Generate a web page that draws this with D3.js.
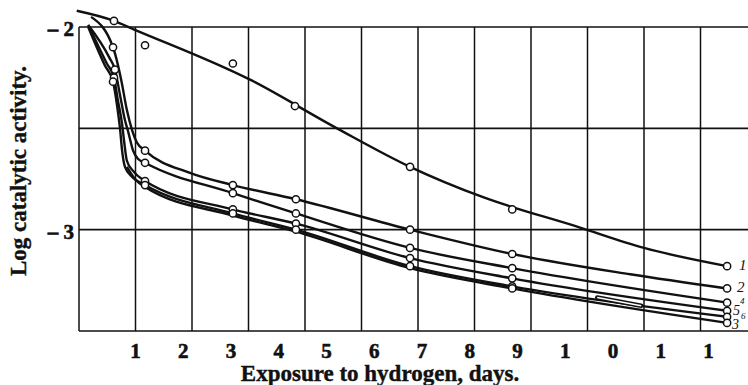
<!DOCTYPE html>
<html>
<head>
<meta charset="utf-8">
<script src="https://cdn.jsdelivr.net/npm/d3@7"></script>
<style>
body { margin: 0; background: #fff; }
svg { display: block; font-family: "Liberation Serif", "Times New Roman", serif; }
</style>
</head>
<body>
<div class="chart"></div>
<script>
var width = 748;
var height = 385;

// x tick labels exactly as printed (the last ones are split digits)
var tickDays = [1, 2, 3, 4, 5, 6, 7, 8, 9, 10, 11, 12, 13];
var tickLabels = ["1", "2", "3", "4", "5", "6", "7", "8", "9", "1", "0", "1", "1"];
var yTicks = [-2, -3];
var yGridValues = [-2, -2.5, -3, -3.5];
var gridColumns = 12;

var seriesNames = ["1", "2", "4", "5", "6", "3"];

// measured points, days vs log catalytic activity
var pointDays1 = [0.56, 1.21, 3.05, 4.35, 6.76, 8.9, 13.4];
var pointAct1 = [-1.97, -2.09, -2.18, -2.39, -2.69, -2.90, -3.18];
var pointDays2 = [0.54, 1.21, 3.05, 4.37, 6.76, 8.9, 13.4];
var pointAct2 = [-2.10, -2.61, -2.78, -2.85, -3.0, -3.12, -3.29];
var pointDays4 = [0.58, 1.21, 3.05, 4.37, 6.76, 8.9, 13.4];
var pointAct4 = [-2.21, -2.67, -2.82, -2.92, -3.09, -3.19, -3.36];
var pointDays5 = [0.56, 1.21, 3.05, 4.37, 6.76, 8.9, 13.4];
var pointAct5 = [-2.25, -2.76, -2.90, -2.97, -3.14, -3.24, -3.40];
var pointDays6 = [0.54, 1.21, 3.05, 4.37, 6.76, 8.9, 13.4];
var pointAct6 = [-2.27, -2.78, -2.92, -3.0, -3.18, -3.28, -3.43];
var pointDays3 = [8.9, 13.4];
var pointAct3 = [-3.29, -3.46];

// drawn (smoothed) curves
var lineDays1 = [-0.22, 0.56, 0.96, 3.41, 5.23, 6.76, 8.29, 10.26, 11.66, 13.4];
var lineAct1 = [-1.92, -1.97, -2.01, -2.26, -2.50, -2.69, -2.84, -2.985, -3.09, -3.18];
var lineDays2 = [0.08, 0.54, 0.71, 0.83, 0.94, 1.04, 1.21, 2.15, 3.05, 4.37, 6.76, 8.9, 11.37, 13.4];
var lineAct2 = [-1.95, -2.10, -2.26, -2.41, -2.51, -2.57, -2.61, -2.72, -2.78, -2.85, -3.0, -3.12, -3.22, -3.29];
var lineDays4 = [0.02, 0.46, 0.58, 0.69, 0.79, 0.85, 0.96, 1.06, 1.21, 3.05, 4.37, 6.76, 8.9, 13.4];
var lineAct4 = [-1.99, -2.15, -2.21, -2.34, -2.46, -2.51, -2.61, -2.65, -2.67, -2.82, -2.92, -3.09, -3.19, -3.36];
var lineDays5 = [0.02, 0.41, 0.56, 0.64, 0.73, 0.77, 0.83, 0.96, 1.21, 3.05, 4.37, 6.76, 8.9, 13.4];
var lineAct5 = [-1.99, -2.18, -2.25, -2.36, -2.48, -2.56, -2.66, -2.71, -2.76, -2.90, -2.97, -3.14, -3.24, -3.40];
var lineDays6 = [0.02, 0.37, 0.54, 0.62, 0.69, 0.73, 0.79, 0.94, 1.21, 3.05, 4.37, 6.76, 8.9, 13.4];
var lineAct6 = [-2.0, -2.19, -2.27, -2.38, -2.51, -2.61, -2.69, -2.74, -2.78, -2.92, -3.0, -3.18, -3.28, -3.43];
var lineDays3 = [0.83, 1.0, 1.21, 3.05, 4.37, 6.76, 8.9, 13.4];
var lineAct3 = [-2.69, -2.75, -2.79, -2.93, -3.01, -3.19, -3.29, -3.46];

// little stray double stroke near the lower right
var strayDays = [10.68, 11.6];
var strayAct = [-3.335, -3.375];

var svg = d3.select(".chart").append("svg").attr("width", width).attr("height", height);

var x = d3.scaleLinear().domain([1, 13]).range([135, 708]);
var y = d3.scaleLinear().domain([-2, -3.5]).range([27, 331]);
// the printed grid columns do not line up with the day labels
var gridX = d3.scaleLinear().domain([0, gridColumns]).range([79, 757]);

var ink = "#111";

// grid
svg.append("g").selectAll("line.h")
	.data(yGridValues)
	.enter().append("line")
	.attr("x1", 79).attr("x2", width)
	.attr("y1", function(d) { return y(d); })
	.attr("y2", function(d) { return y(d); })
	.attr("stroke", ink).attr("stroke-width", 1.6);

svg.append("g").selectAll("line.v")
	.data(d3.range(gridColumns))
	.enter().append("line")
	.attr("x1", function(d) { return gridX(d); })
	.attr("x2", function(d) { return gridX(d); })
	.attr("y1", y(-2)).attr("y2", y(-3.5))
	.attr("stroke", ink).attr("stroke-width", 1.5);

// x tick labels
var xAxis = d3.axisBottom(x)
	.tickValues(tickDays)
	.tickFormat(function(d, i) { return tickLabels[i]; })
	.tickSize(0)
	.tickPadding(12);
var gx = svg.append("g")
	.attr("transform", "translate(0," + y(-3.5) + ")")
	.call(xAxis)
	.attr("font-family", "Liberation Serif")
	.attr("font-weight", 700)
	.attr("font-size", 21);
gx.select(".domain").remove();
gx.selectAll("text").attr("fill", ink).attr("stroke", ink).attr("stroke-width", 0.6);

// y tick labels
svg.append("g").selectAll("text")
	.data(yTicks)
	.enter().append("text")
	.attr("x", 74)
	.attr("y", function(d) { return y(d); })
	.attr("dy", "0.45em")
	.attr("text-anchor", "end")
	.attr("fill", ink)
	.attr("stroke", ink).attr("stroke-width", 0.6)
	.attr("font-weight", 700)
	.attr("font-size", 21)
	.text(function(d) { return "\u2013 " + Math.abs(d); });

// axis titles (the scan's ink is heavy, so a thin stroke thickens them)
svg.append("text")
	.attr("x", 380).attr("y", 381)
	.attr("text-anchor", "middle")
	.attr("fill", ink)
	.attr("stroke", ink).attr("stroke-width", 0.4)
	.attr("font-weight", 700)
	.attr("font-size", 23)
	.text("Exposure to hydrogen, days.");

svg.append("text")
	.attr("transform", "translate(26,171) rotate(-90)")
	.attr("text-anchor", "middle")
	.attr("fill", ink)
	.attr("stroke", ink).attr("stroke-width", 0.4)
	.attr("font-weight", 700)
	.attr("font-size", 23)
	.text("Log catalytic activity.");

// curves
function zip(xs, ys) {
	return xs.map(function(d, i) { return [d, ys[i]]; });
}

var curves = [
	zip(lineDays1, lineAct1),
	zip(lineDays2, lineAct2),
	zip(lineDays4, lineAct4),
	zip(lineDays5, lineAct5),
	zip(lineDays6, lineAct6),
	zip(lineDays3, lineAct3)
];
var points = [
	zip(pointDays1, pointAct1),
	zip(pointDays2, pointAct2),
	zip(pointDays4, pointAct4),
	zip(pointDays5, pointAct5),
	zip(pointDays6, pointAct6),
	zip(pointDays3, pointAct3)
];

var line = d3.line()
	.x(function(d) { return x(d[0]); })
	.y(function(d) { return y(d[1]); })
	.curve(d3.curveMonotoneX);

svg.append("g").selectAll("path")
	.data(curves)
	.enter().append("path")
	.attr("d", line)
	.attr("fill", "none")
	.attr("stroke", ink)
	.attr("stroke-width", 2.4);

// stray double stroke
var stray = zip(strayDays, strayAct);
svg.append("path").attr("d", line(stray))
	.attr("fill", "none").attr("stroke", ink).attr("stroke-width", 4.5).attr("stroke-linecap", "round");
svg.append("path").attr("d", line(stray))
	.attr("fill", "none").attr("stroke", "#fff").attr("stroke-width", 1.5);

svg.append("g").selectAll("circle")
	.data(d3.merge(points))
	.enter().append("circle")
	.attr("cx", function(d) { return x(d[0]); })
	.attr("cy", function(d) { return y(d[1]); })
	.attr("r", 3.6)
	.attr("fill", "#fff")
	.attr("stroke", ink)
	.attr("stroke-width", 1.5);

// hand written curve numbers at the right ends
var labelNudge = [[12, 4], [10, 4], [13, 1], [6, 4], [14, 2], [5, 6]];
var labelSize = [15, 15, 9, 14, 9, 14];
svg.append("g").selectAll("text")
	.data(seriesNames)
	.enter().append("text")
	.attr("x", function(d, i) { var p = points[i][points[i].length - 1]; return x(p[0]) + labelNudge[i][0]; })
	.attr("y", function(d, i) { var p = points[i][points[i].length - 1]; return y(p[1]) + labelNudge[i][1]; })
	.attr("fill", ink)
	.attr("font-style", "italic")
	.attr("font-size", function(d, i) { return labelSize[i]; })
	.text(function(d) { return d; });
</script>
</body>
</html>
